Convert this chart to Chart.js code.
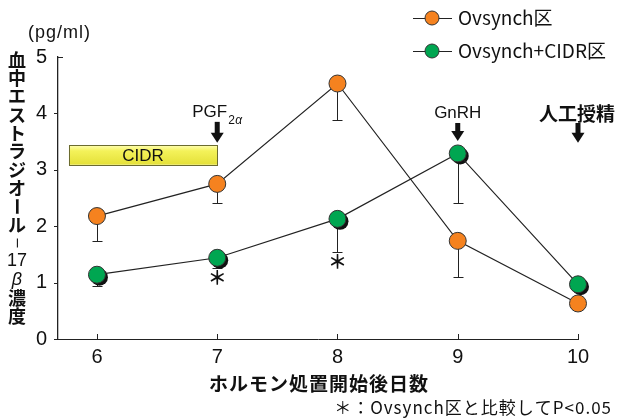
<!DOCTYPE html>
<html>
<head>
<meta charset="utf-8">
<script src="https://cdn.jsdelivr.net/npm/chart.js@4.4.1/dist/chart.umd.min.js"></script>
<style>
  html, body { margin: 0; padding: 0; background: #fff; }
  #wrap { width: 619px; height: 419px; }
</style>
</head>
<body>
<div id="wrap"><canvas id="chart" width="619" height="419"></canvas></div>
<script>
const days = [6, 7, 8, 9, 10];
const ovsynch = [2.18, 2.75, 4.53, 1.74, 0.63];
const ovsynchSE = [0.44, 0.33, 0.65, 0.64, 0.05];
const cidr = [1.14, 1.44, 2.13, 3.29, 0.97];
const cidrSE = [0.20, 0.18, 0.58, 0.87, 0.05];
const xTicks = [6, 7, 8, 9, 10];
const yTicks = [0, 1, 2, 3, 4, 5];
const seriesNames = ['Ovsynch区', 'Ovsynch+CIDR区'];
const signifDays = [7, 8];
const yTitleChars = ['血', '中', 'エ', 'ス', 'ト', 'ラ', 'ジ', 'オ', 'ー', 'ル', '–', '17', 'β', '濃', '度'];

const ORANGE = '#F5821F';
const GREEN = '#00A651';
const LAT = "'Liberation Sans', 'Noto Sans CJK JP', sans-serif";
const JP = "'Noto Sans CJK JP', sans-serif";
const errors = [ovsynchSE, cidrSE];
const means = [ovsynch, cidr];

const extras = {
  id: 'extras',
  beforeDatasetDraw(chart, args) {
    const { ctx, scales: { x, y } } = chart;
    const i = args.index;
    ctx.save();
    // error bars (downward only) under the markers
    ctx.strokeStyle = '#222';
    ctx.lineWidth = 1;
    means[i].forEach((v, k) => {
      const px = Math.round(x.getPixelForValue(days[k])) + 0.5;
      const top = y.getPixelForValue(v);
      const bot = Math.round(y.getPixelForValue(v - errors[i][k])) + 0.5;
      ctx.beginPath();
      ctx.moveTo(px, top); ctx.lineTo(px, bot);
      ctx.moveTo(px - 5, bot); ctx.lineTo(px + 5, bot);
      ctx.stroke();
    });
    // dark drop shadow under the green markers
    if (i === 1) {
      ctx.fillStyle = '#111';
      args.meta.data.forEach(p => {
        ctx.beginPath();
        ctx.arc(p.x + 2.5, p.y + 2.5, 8.5, 0, Math.PI * 2);
        ctx.fill();
      });
    }
    ctx.restore();
  },
  afterDraw(chart) {
    const { ctx, chartArea: a, scales: { x, y } } = chart;
    ctx.save();
    ctx.strokeStyle = '#222';
    ctx.lineWidth = 1;
    // tick marks
    xTicks.forEach(v => {
      const px = Math.round(x.getPixelForValue(v)) + 0.5;
      ctx.beginPath(); ctx.moveTo(px, a.bottom); ctx.lineTo(px, a.bottom - 5); ctx.stroke();
    });
    yTicks.forEach(v => {
      const py = Math.round(y.getPixelForValue(v)) + 0.5;
      ctx.beginPath();
      if (v === 5) { ctx.moveTo(a.left, py); ctx.lineTo(a.left + 5, py); }
      else { ctx.moveTo(a.left - 4, py); ctx.lineTo(a.left, py); }
      ctx.stroke();
    });

    ctx.fillStyle = '#111';
    ctx.textBaseline = 'middle';

    // unit
    ctx.font = '18px ' + LAT;
    ctx.letterSpacing = '1px';
    ctx.textAlign = 'left';
    ctx.fillText('(pg/ml)', 28, 33);
    ctx.letterSpacing = '0px';

    // vertical y title
    ctx.textAlign = 'center';
    yTitleChars.forEach((ch, i) => {
      const cy = 60 + i * 18.3;
      if (ch === '17') ctx.font = '18px ' + LAT;
      else if (ch === 'β') ctx.font = 'italic 18px ' + LAT;
      else ctx.font = 'bold 18px ' + JP;
      if (ch === 'ー' || ch === '–') {
        ctx.save();
        ctx.translate(17, cy);
        ctx.rotate(Math.PI / 2);
        ctx.font = ch === '–' ? '16px ' + LAT : 'bold 18px ' + JP;
        ctx.fillText(ch, 0, 0);
        ctx.restore();
      } else {
        ctx.fillText(ch, 17, cy);
      }
    });

    // x title and footnote
    ctx.font = 'bold 19px ' + JP;
    ctx.letterSpacing = '1px';
    ctx.fillText('ホルモン処置開始後日数', 319, 384);
    ctx.font = '17px ' + JP;
    ctx.textAlign = 'right';
    ctx.fillText('＊：Ovsynch区と比較してP<0.05', 612, 408);
    ctx.letterSpacing = '0px';

    // CIDR bar
    const bx0 = x.getPixelForValue(5.767), bx1 = x.getPixelForValue(7);
    const by0 = y.getPixelForValue(3.44), by1 = y.getPixelForValue(3.09);
    const g = ctx.createLinearGradient(0, by0, 0, by1);
    g.addColorStop(0, '#FFFFB8');
    g.addColorStop(0.3, '#F4F25A');
    g.addColorStop(1, '#E4E038');
    ctx.fillStyle = g;
    ctx.fillRect(bx0, by0, bx1 - bx0, by1 - by0);
    ctx.strokeStyle = '#6B6B30';
    ctx.strokeRect(Math.round(bx0) + 0.5, Math.round(by0) + 0.5, Math.round(bx1 - bx0), Math.round(by1 - by0));
    ctx.fillStyle = '#111';
    ctx.textAlign = 'center';
    ctx.font = '17px ' + LAT;
    ctx.fillText('CIDR', (bx0 + bx1) / 2, (by0 + by1) / 2 + 1);

    // event arrows
    const arrow = (day, top, tip) => {
      const px = x.getPixelForValue(day);
      const t = y.getPixelForValue(top), e = y.getPixelForValue(tip);
      ctx.fillStyle = '#111';
      ctx.fillRect(px - 2.5, t, 5, e - t - 9);
      ctx.beginPath();
      ctx.moveTo(px - 6.5, e - 10); ctx.lineTo(px + 6.5, e - 10); ctx.lineTo(px, e);
      ctx.closePath(); ctx.fill();
    };
    arrow(7, 3.85, 3.48);
    arrow(9, 3.83, 3.51);
    arrow(10, 3.83, 3.48);

    ctx.fillStyle = '#111';
    ctx.font = '17px ' + LAT;
    ctx.textAlign = 'right';
    const pgx = x.getPixelForValue(7) + 10;
    ctx.fillText('PGF', pgx, y.getPixelForValue(4.02));
    ctx.textAlign = 'left';
    ctx.font = '12px ' + LAT;
    ctx.fillText('2', pgx + 1, y.getPixelForValue(3.87));
    ctx.font = 'italic 12px ' + LAT;
    ctx.fillText('α', pgx + 8, y.getPixelForValue(3.87));
    ctx.textAlign = 'center';
    ctx.font = '17px ' + LAT;
    ctx.fillText('GnRH', x.getPixelForValue(9), y.getPixelForValue(4.0));
    ctx.font = 'bold 19px ' + JP;
    ctx.fillText('人工授精', x.getPixelForValue(10) - 1, y.getPixelForValue(3.99));

    // significance marks
    ctx.font = 'bold 19px ' + JP;
    signifDays.forEach((d, k) => {
      const lv = k === 0 ? 1.08 : 1.37;
      ctx.fillText('＊', x.getPixelForValue(d), y.getPixelForValue(lv));
    });

    // legend
    [[ORANGE, 18], [GREEN, 51]].forEach(([c, ly], i) => {
      ctx.strokeStyle = '#222';
      ctx.beginPath(); ctx.moveTo(413, ly + 0.5); ctx.lineTo(452, ly + 0.5); ctx.stroke();
      ctx.fillStyle = c;
      ctx.beginPath(); ctx.arc(432, ly, 7, 0, Math.PI * 2); ctx.fill();
      ctx.strokeStyle = '#333'; ctx.stroke();
      ctx.fillStyle = '#111';
      ctx.textAlign = 'left';
      ctx.font = '19px ' + JP;
      ctx.fillText(seriesNames[i], 458, ly);
    });
    ctx.restore();
  }
};

new Chart(document.getElementById('chart'), {
  type: 'line',
  data: {
    datasets: [{
      label: seriesNames[0],
      data: days.map((d, i) => ({ x: d, y: ovsynch[i] })),
      borderColor: '#222',
      borderWidth: 1.2,
      pointRadius: 8.5,
      pointBackgroundColor: ORANGE,
      pointBorderColor: '#333',
      pointBorderWidth: 1,
      clip: false
    }, {
      label: seriesNames[1],
      data: days.map((d, i) => ({ x: d, y: cidr[i] })),
      borderColor: '#222',
      borderWidth: 1.2,
      pointRadius: 8.5,
      pointBackgroundColor: GREEN,
      pointBorderColor: '#333',
      pointBorderWidth: 1,
      clip: false
    }]
  },
  options: {
    responsive: false,
    animation: false,
    layout: { padding: { left: 0, top: 57, right: 41, bottom: 0 } },
    plugins: { legend: { display: false }, tooltip: { enabled: false } },
    scales: {
      x: {
        type: 'linear',
        min: 5.676,
        max: 10,
        afterBuildTicks: s => { s.ticks = xTicks.map(v => ({ value: v })); },
        afterFit: s => { s.height = 80; },
        grid: { display: false, drawTicks: false },
        border: { color: '#222', width: 1 },
        ticks: { color: '#111', padding: 6, font: { family: LAT, size: 20 } }
      },
      y: {
        min: 0,
        max: 5,
        afterBuildTicks: s => { s.ticks = yTicks.map(v => ({ value: v })); },
        afterFit: s => { s.width = 58; },
        grid: { display: false, drawTicks: false },
        border: { color: '#222', width: 1.3 },
        ticks: { color: '#111', padding: 11, font: { family: LAT, size: 20 } }
      }
    }
  },
  plugins: [extras]
});
</script>
</body>
</html>
